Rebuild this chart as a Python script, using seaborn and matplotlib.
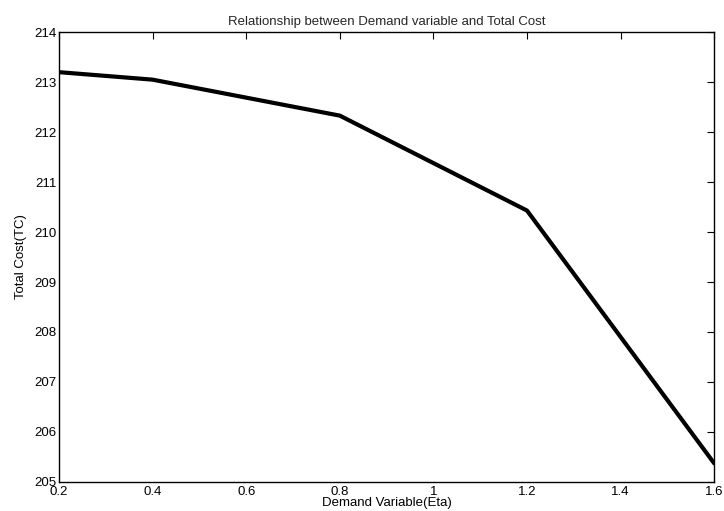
import numpy as np
import pandas as pd
import matplotlib
matplotlib.use("Agg")
import matplotlib.pyplot as plt
import seaborn as sns

eta = [0.2, 0.4, 0.8, 1.2, 1.6]
total_cost = [213.20, 213.05, 212.33, 210.43, 205.37]
x_ticks = [0.2, 0.4, 0.6, 0.8, 1.0, 1.2, 1.4, 1.6]
x_labels = ["0.2", "0.4", "0.6", "0.8", "1", "1.2", "1.4", "1.6"]
y_ticks = list(range(205, 215))

df = pd.DataFrame({"eta": eta, "tc": total_cost})

sns.set_style("white")
plt.rcParams["font.family"] = ["Liberation Sans", "DejaVu Sans"]

fig = plt.figure(figsize=(7.24, 5.11), dpi=100)
ax = fig.add_axes([0.0815, 0.057, 0.905, 0.88])
sns.lineplot(data=df, x="eta", y="tc", color="black", linewidth=3.0, ax=ax)

ax.set_xlim(0.2, 1.6)
ax.set_ylim(205, 214)
ax.set_xticks(x_ticks)
ax.set_xticklabels(x_labels)
ax.set_yticks(y_ticks)
ax.tick_params(direction="in", length=5, width=0.8, labelsize=9.5, top=True, right=True,
               colors="black", pad=2)
ax.tick_params(axis="x", pad=3)
for s in ax.spines.values():
    s.set_color("black")
    s.set_linewidth(1.0)
ax.set_title("Relationship between Demand variable and Total Cost", fontsize=9.5, pad=5)
ax.set_xlabel("Demand Variable(Eta)", fontsize=9.5, labelpad=-1, color="black")
ax.set_ylabel("Total Cost(TC)", fontsize=9.5, labelpad=5, color="black")

fig.savefig("out.png", dpi=100)
